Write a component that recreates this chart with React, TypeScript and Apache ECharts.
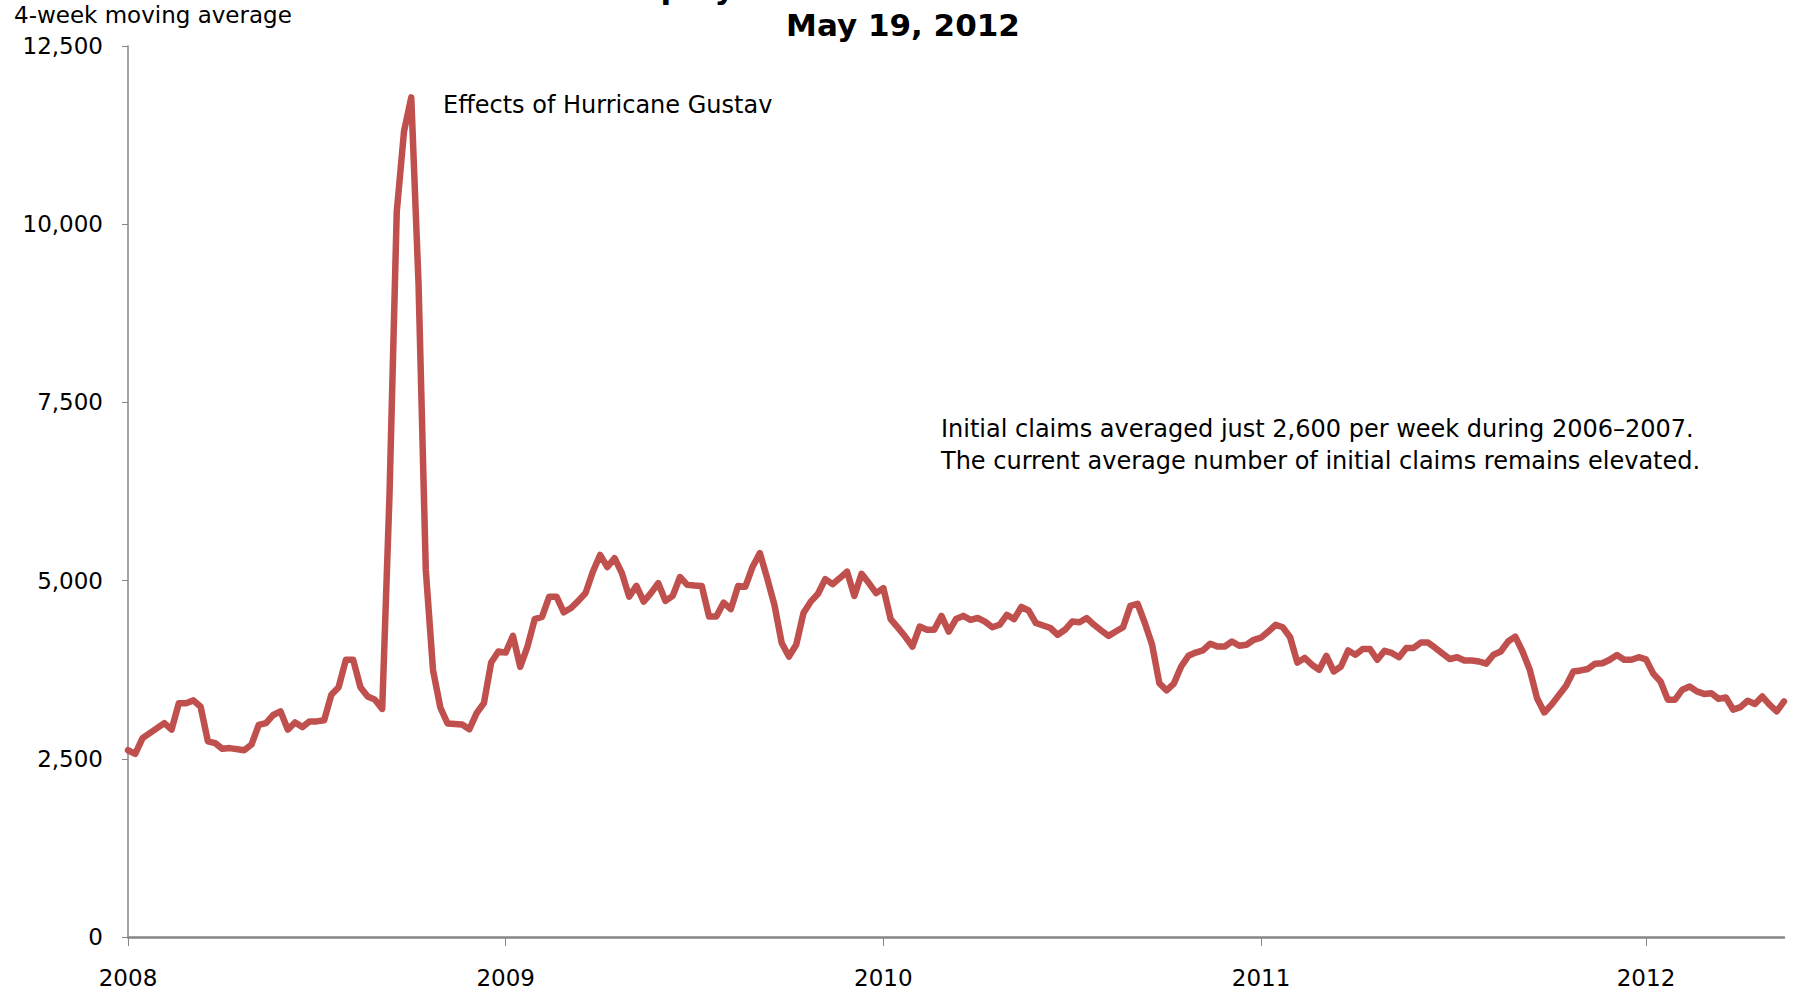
import React, { useEffect, useRef } from "react";
import * as echarts from "echarts";

// Weekly initial claims, 4-week moving average, weeks ending Saturday.
const FIRST_WEEK_ENDING = "2008-01-05";

// One value per week from the first week ending above; null marks a week
// with no reading (the line is bridged across it).
const claims: (number | null)[] = [
  // 2008
  2620, 2570, 2790, 2860, null, 3000, 2910, 3280, 3280, 3320, 3230, 2745, 2720,
  2640, 2650, null, 2620, 2700, 2975, 3000, 3115, 3165, 2910, 3010, 2945, 3025,
  3025, 3040, 3400, 3505, 3890, 3890, 3505, 3375, 3330, 3200, 6190, 10170, 11300,
  11780, 9170, 5150, 3740, 3220, 2995, null, 2980, 2915, 3140, 3280, 3850, 4005,
  // 2009
  3990, 4225, 3790, 4075, 4460, 4490, 4775, 4775, 4555, 4615, 4715, 4825, 5125,
  5360, 5190, 5315, 5105, 4775, 4925, 4705, 4825, 4965, 4715, 4785, 5050, 4940,
  4930, 4925, 4495, 4495, 4690, 4600, 4925, 4915, 5195, 5385, 5035, 4660, 4125,
  3935, 4100, 4545, 4705, 4815, 5020, 4950, 5035, 5125, 4785, 5095, 4965, 4825,
  // 2010
  4895, 4460, 4340, 4215, 4075, 4355, 4310, 4310, 4505, 4285, 4460, 4505, 4450,
  4475, 4425, 4345, 4380, 4520, 4460, 4630, 4580, 4405, null, 4335, 4240, 4310,
  4425, 4415, 4475, 4380, 4300, 4225, 4285, 4345, 4645, 4675, 4405, 4100, 3560,
  3460, 3555, 3795, 3945, 3990, 4020, 4115, 4075, 4075, 4145, 4085, 4100, 4170,
  // 2011
  4200, 4285, 4380, 4345, 4205, 3850, 3915, 3820, 3750, 3945, 3725, 3795, 4020,
  3960, 4040, 4040, 3890, 4015, 3985, 3925, 4055, 4055, 4130, 4130, 4055, 3975,
  3900, 3925, 3880, 3880, 3865, 3835, 3960, 4005, 4145, 4215, 4005, 3750, 3350,
  3150, 3260, null, 3525, 3725, 3740, 3760, 3835, 3840, 3890, 3955, 3890, 3890,
  3925,
  // 2012
  3895, 3695, 3585, 3330, 3330, 3470, 3515, 3445, 3410, 3420, 3340, 3360, 3190,
  3225, 3315, 3270, 3375, 3260, 3165, 3305,
];

const Y_MIN = 0;
const Y_MAX = 12500;
const Y_STEP = 2500;

const titleLines = ["Unemployment Insurance Initial Claims", "May 19, 2012"];
const yAxisTitle = "4-week moving average";
const spikeNote = "Effects of Hurricane Gustav";
const summaryNote = [
  "Initial claims averaged just 2,600 per week during 2006\u20132007.",
  "The current average number of initial claims remains elevated.",
];

const FONT = '"DejaVu Sans", "Liberation Sans", sans-serif';
const LINE_RED = "#C0504D";
const AXIS_GREY = "#868686";

function weekEndings(count: number): string[] {
  const start = Date.parse(FIRST_WEEK_ENDING + "T00:00:00Z");
  const out: string[] = [];
  for (let i = 0; i < count; i++) {
    out.push(new Date(start + i * 7 * 86400000).toISOString().slice(0, 10));
  }
  return out;
}

// First week ending of each calendar year carries the year tick.
const isFirstWeekOfYear = (_idx: number, value: string) => {
  const month = Number(value.slice(5, 7));
  const day = Number(value.slice(8, 10));
  return month === 1 && day <= 7;
};

export default function App() {
  const ref = useRef<HTMLDivElement>(null);

  useEffect(() => {
    if (!ref.current) return;
    const chart = echarts.init(ref.current, undefined, { renderer: "svg" });
    const weeks = weekEndings(claims.length);

    chart.setOption({
      animation: false,
      backgroundColor: "#ffffff",
      grid: { left: 128, right: 13, top: 46, bottom: 58, containLabel: false },
      xAxis: {
        type: "category",
        data: weeks,
        boundaryGap: false,
        axisLine: { show: true, lineStyle: { color: AXIS_GREY, width: 2.5 } },
        axisTick: {
          show: true,
          interval: isFirstWeekOfYear,
          length: 9,
          lineStyle: { color: AXIS_GREY, width: 1 },
        },
        axisLabel: {
          interval: isFirstWeekOfYear,
          formatter: (v: string) => v.slice(0, 4),
          margin: 29,
          fontFamily: FONT,
          fontSize: 23,
          color: "#000",
          hideOverlap: false,
        },
        splitLine: { show: false },
      },
      yAxis: {
        type: "value",
        min: Y_MIN,
        max: Y_MAX,
        interval: Y_STEP,
        axisLine: { show: true, lineStyle: { color: AXIS_GREY, width: 1.5 } },
        axisTick: { show: true, length: 6, lineStyle: { color: AXIS_GREY } },
        axisLabel: {
          margin: 25,
          fontFamily: FONT,
          fontSize: 23,
          color: "#000",
          formatter: (v: number) => v.toLocaleString("en-US"),
        },
        splitLine: { show: false },
      },
      series: [
        {
          type: "line",
          data: claims,
          connectNulls: true,
          showSymbol: false,
          symbol: "none",
          smooth: false,
          lineStyle: { color: LINE_RED, width: 6.5, join: "round", cap: "round" },
          emphasis: { disabled: true },
        },
      ],
      graphic: [
        {
          type: "text",
          x: 903,
          y: -12,
          style: {
            text: titleLines[0],
            font: `bold 31px ${FONT}`,
            fill: "#000",
            textAlign: "center",
            textVerticalAlign: "middle",
          },
        },
        {
          type: "text",
          x: 903,
          y: 25,
          style: {
            text: titleLines[1],
            font: `bold 31px ${FONT}`,
            fill: "#000",
            textAlign: "center",
            textVerticalAlign: "middle",
          },
        },
        {
          type: "text",
          x: 14,
          y: 15,
          style: {
            text: yAxisTitle,
            font: `23px ${FONT}`,
            fill: "#000",
            textAlign: "left",
            textVerticalAlign: "middle",
          },
        },
        {
          type: "text",
          x: 443,
          y: 105,
          style: {
            text: spikeNote,
            font: `24px ${FONT}`,
            fill: "#000",
            textAlign: "left",
            textVerticalAlign: "middle",
          },
        },
        {
          type: "text",
          x: 941,
          y: 445,
          style: {
            text: summaryNote.join("\n"),
            font: `24px ${FONT}`,
            lineHeight: 32,
            fill: "#000",
            textAlign: "left",
            textVerticalAlign: "middle",
          },
        },
      ],
    });

    return () => chart.dispose();
  }, []);

  return (
    <div
      ref={ref}
      style={{ position: "absolute", left: 0, top: 0, width: 1797, height: 995 }}
    />
  );
}
